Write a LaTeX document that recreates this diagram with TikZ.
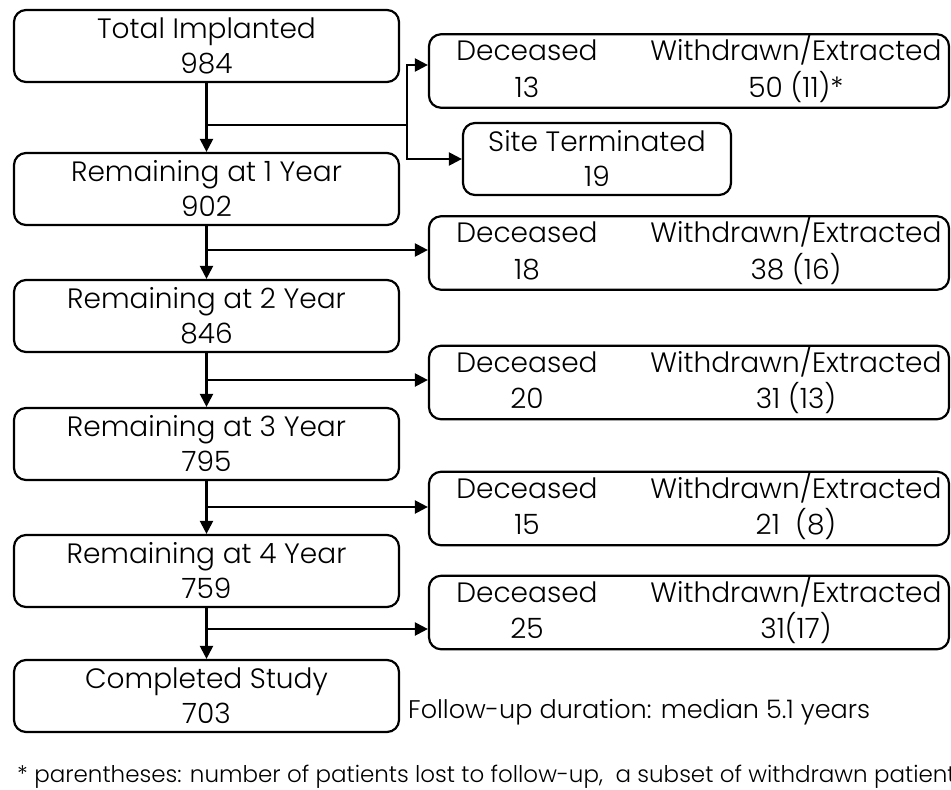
\documentclass[tikz,border=0pt]{standalone}
\usepackage{fontspec}
\setmainfont{Poppins}[UprightFont=* Light]
\usepackage{array}
\usepackage{tikz}
\usetikzlibrary{positioning, arrows.meta, calc}

% two-column content of the loss boxes
\newcommand{\losses}[2]{\hspace*{20pt}\begin{tabular}{@{}w{c}{150pt}@{\hspace{44pt}}w{c}{300pt}@{}}
    Deceased & Withdrawn/Extracted\\ #1 & #2\end{tabular}}

\begin{document}
\begin{tikzpicture}[
    x=1pt, y=-1pt,
    stage/.style={draw, rounded corners=12pt, minimum width=385pt, minimum height=72pt,
                  inner sep=0pt, align=center, line width=2.2pt,
                  font=\fontsize{28}{35}\selectfont},
    loss/.style={stage, minimum width=520pt},
    site/.style={stage, minimum width=268pt},
    line/.style={line width=2.2pt},
    arr/.style={line, -{Triangle[length=13pt, width=13pt]}},
    note/.style={font=\fontsize{25.5}{30}\selectfont, inner sep=0pt},
]
    \useasboundingbox (0,0) rectangle (951,790);

    % Main stages
    \node[stage] (total) at (206.5,46)  {Total Implanted\\984};
    \node[stage] (yr1)   at (206.5,189) {Remaining at 1 Year\\902};
    \node[stage] (yr2)   at (206.5,316) {Remaining at 2 Year\\846};
    \node[stage] (yr3)   at (206.5,444) {Remaining at 3 Year\\795};
    \node[stage] (yr4)   at (206.5,571) {Remaining at 4 Year\\759};
    \node[stage] (done)  at (206.5,696) {Completed Study\\703};

    % Losses
    \node[loss] (out0) at (689,71)    {\losses{13}{50 (11)*}};
    \node[site] (site) at (597,159)   {Site Terminated\\19};
    \node[loss] (out1) at (689,253)   {\losses{18}{38 (16)}};
    \node[loss] (out2) at (689,382.5) {\losses{20}{31 (13)}};
    \node[loss] (out3) at (689,508.5) {\losses{15}{21\ \ (8)}};
    \node[loss] (out4) at (689,612.5) {\losses{25}{31(17)}};

    % Branch points
    \coordinate (j0) at (206.5,125);
    \coordinate (k0) at (407,125);
    \coordinate (j1) at (206.5,250);
    \coordinate (j2) at (206.5,380);
    \coordinate (j3) at (206.5,507);
    \coordinate (j4) at (206.5,629);

    % Arrows
    \draw[arr] (total) -- (yr1);
    \draw[arr] (yr1) -- (yr2);
    \draw[arr] (yr2) -- (yr3);
    \draw[arr] (yr3) -- (yr4);
    \draw[arr] (yr4) -- (done);
    \draw[line] (j0) -- (k0);
    \draw[arr] (k0) |- ([yshift=6pt]out0.west);
    \draw[arr] (k0) |- (site.west);
    \draw[arr] (j1) -- (j1 -| out1.west);
    \draw[arr] (j2) -- (j2 -| out2.west);
    \draw[arr] (j3) -- (j3 -| out3.west);
    \draw[arr] (j4) -- (j4 -| out4.west);

    % Notes
    \node[note, anchor=base west] (follow) at (408,718) {Follow-up duration: median 5.1 years};
    \node[note, anchor=base west, font=\fontsize{23}{28}\selectfont] (foot) at (17,782)
        {* parentheses: number of patients lost to follow-up,\ \ a subset of withdrawn patients};

\end{tikzpicture}
\end{document}
